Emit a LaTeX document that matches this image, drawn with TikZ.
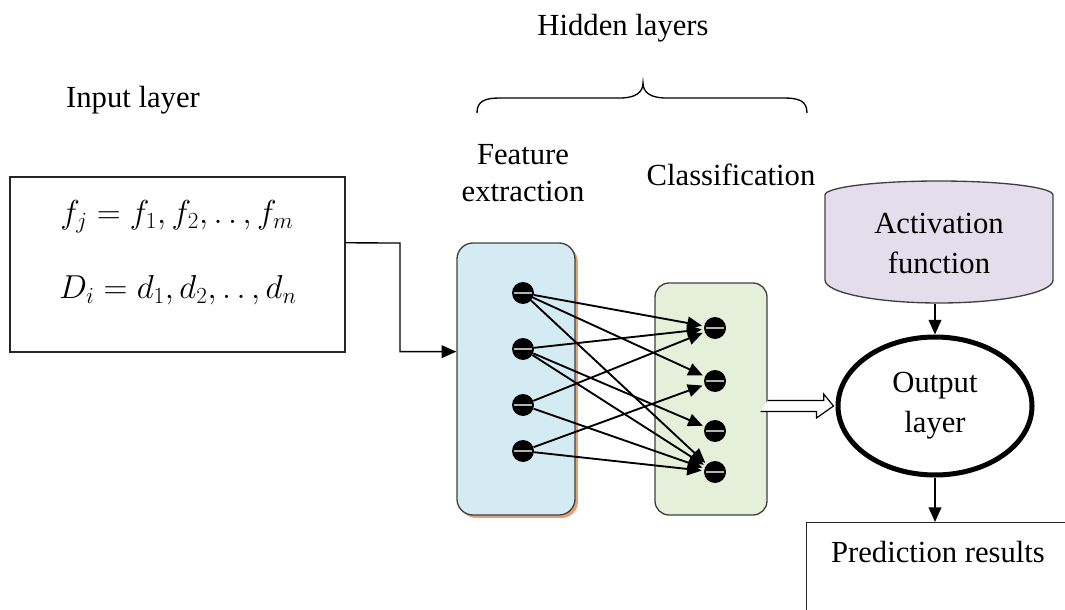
\documentclass[tikz,border=0pt]{standalone}
\usepackage{fontspec}
\setmainfont{Liberation Serif}
\usetikzlibrary{arrows.meta,calc,shapes.geometric,shadows}
\definecolor{bluefill}{HTML}{D4EBF4}
\definecolor{greenfill}{HTML}{E5EFDA}
\definecolor{lavfill}{HTML}{E4DEEC}
\definecolor{shadowor}{HTML}{E6A276}
\definecolor{edgegray}{HTML}{404040}
\begin{document}
\begin{tikzpicture}[x=0.75pt,y=-0.75pt,
  every node/.style={font=\fontsize{23pt}{30pt}\selectfont, inner sep=0pt},
  lbl/.style={align=center},
  ball/.style={circle, fill=black, minimum size=16.5pt,
    path picture={\draw[gray!60, line width=1pt] ([xshift=1.5pt]path picture bounding box.west) -- ([xshift=-1.5pt]path picture bounding box.east);}},
  arr/.style={-{Triangle[length=11pt,width=9.5pt]}, line width=1.4pt},
  link/.style={arr, shorten >=1.5pt},
  box/.style={draw=black!85, line width=1.1pt},
  layerbox/.style={draw=edgegray, line width=1pt},
]
\path[use as bounding box] (0,0) rectangle (1065,610);
\clip (0,0) rectangle (1065,610);

% titles
\node[lbl] (hid) at (623,28) {Hidden layers};
\node[lbl] (inl) at (133,100) {Input layer};
\node[lbl, font=\fontsize{23pt}{28pt}\selectfont] (fe) at (523,173) {Feature\\extraction};
\node[lbl] (cl) at (731,175) {Classification};

% brace
\draw[line width=1pt] (477,113) .. controls (477,101) and (485,98) .. (500,98)
  -- (620,98) .. controls (636,98) and (643,92) .. (643,83)
  .. controls (643,92) and (650,98) .. (666,98) -- (784,98)
  .. controls (799,98) and (807,101) .. (807,113);

% input box
\node[box, minimum width=251.25pt, minimum height=131.25pt] (inp) at (177.5,264.5) {};
\node (m1) at (177,217) {$f_j = f_1, f_2, .\,.\,, f_m$};
\node (m2) at (178,290) {$D_i = d_1, d_2, .\,.\,, d_n$};

% hidden layer boxes
\node[layerbox, fill=bluefill, rounded corners=12pt, minimum width=88.5pt, minimum height=204pt,
  drop shadow={shadow xshift=2.2pt, shadow yshift=-2.2pt, fill=shadowor, opacity=1}] (blue) at (516,379) {};
\node[layerbox, fill=greenfill, rounded corners=10.5pt, minimum width=84pt, minimum height=174pt] (green) at (711,399) {};

% input arrow
\draw[arr, line width=1pt] ($(inp.north east)!0.377!(inp.south east)$) -- (400,243)
  |- ($(blue.north west)!0.40!(blue.south west)$);

% neurons
\node[ball] (b1) at (523,293) {};
\node[ball] (b2) at (523,349) {};
\node[ball] (b3) at (523,405) {};
\node[ball] (b4) at (523,451) {};
\node[ball] (g1) at (715,328) {};
\node[ball] (g2) at (715,381) {};
\node[ball] (g3) at (715,431) {};
\node[ball] (g4) at (715,472) {};
\foreach \a/\b in {1/1,1/2,1/4,2/1,2/3,2/4,3/1,3/4,4/2,4/4}
  \draw[link] (b\a) -- (g\b);

% activation function cylinder
\filldraw[fill=lavfill, draw=edgegray, line width=1pt] (825,195) arc (180:360:114 and 14)
  -- (1053,280) arc (0:180:114 and 23) -- cycle;
\node[lbl, minimum width=171pt, minimum height=91.5pt] (act) at (939,243) {Activation\\function};

% output layer
\node[ellipse, draw, line width=3.75pt, minimum width=145.5pt, minimum height=103.5pt, lbl] (out) at (935,406) {Output\\layer};
\draw[arr] (act.south -| out.north) -- (out.north);

% hollow arrow
\draw[line width=0.9pt, fill=white, line join=miter] (green.east |- out.west) ++(0,-5.5) -- ++(56,0) -- ++(0,-6.5)
  -- ([xshift=-1.5pt]out.west) -- ++(-17,12) -- ++(0,-6.5) -- ++(-56,0);

% prediction
\node[box, anchor=north west, minimum width=240pt, minimum height=112pt] (pred) at (806,522) {};
\node (predt) at (938,552) {Prediction results};
\draw[arr] (out.south) -- (out.south |- pred.north);
\end{tikzpicture}
\end{document}
